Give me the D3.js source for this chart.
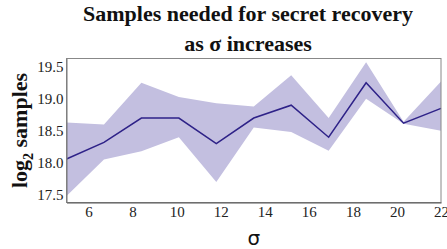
<!DOCTYPE html>
<html>
<head>
<meta charset="utf-8">
<script src="https://cdn.jsdelivr.net/npm/d3@7"></script>
<style>
  body { margin: 0; background: #fff; }
</style>
</head>
<body>
<div id="my_viz"></div>
<script>
const sigma = [5, 6.7, 8.4, 10.1, 11.8, 13.5, 15.2, 16.9, 18.6, 20.3, 22];
const mean = [18.06, 18.32, 18.7, 18.7, 18.3, 18.7, 18.9, 18.4, 19.25, 18.62, 18.85];
const upper = [18.63, 18.6, 19.25, 19.03, 18.93, 18.88, 19.37, 18.7, 19.57, 18.64, 19.27];
const lower = [17.48, 18.05, 18.18, 18.4, 17.7, 18.55, 18.48, 18.19, 19.0, 18.61, 18.5];
const xTicks = [6, 8, 10, 12, 14, 16, 18, 20, 22];
const yTicks = [17.5, 18.0, 18.5, 19.0, 19.5];

const width = 447;
const height = 249;
const margin = { top: 58.5, bottom: 46.5, left: 66.5, right: 6 };

const data = sigma.map((s, i) => ({ s: s, m: mean[i], hi: upper[i], lo: lower[i] }));

const svg = d3.select('#my_viz')
    .append('svg')
    .attr('width', width)
    .attr('height', height);

const x = d3.scaleLinear()
    .domain([5, 22])
    .range([margin.left, width - margin.right]);

const y = d3.scaleLinear()
    .domain([17.38, 19.63])
    .range([height - margin.bottom, margin.top]);

// band
svg.append('path')
    .datum(data)
    .attr('fill', '#c3bfe0')
    .attr('d', d3.area()
        .x(d => x(d.s))
        .y0(d => y(d.lo))
        .y1(d => y(d.hi)));

// mean line
svg.append('path')
    .datum(data)
    .attr('fill', 'none')
    .attr('stroke', '#2e2288')
    .attr('stroke-width', 1.5)
    .attr('d', d3.line()
        .x(d => x(d.s))
        .y(d => y(d.m)));

// frame
svg.append('rect')
    .attr('x', margin.left)
    .attr('y', margin.top)
    .attr('width', width - margin.right - margin.left)
    .attr('height', height - margin.bottom - margin.top)
    .attr('fill', 'none')
    .attr('stroke', '#888')
    .attr('stroke-width', 1);

function yAxis(g) {
    g.attr('transform', `translate(${margin.left},0)`)
        .call(d3.axisLeft(y).tickValues(yTicks).tickFormat(d3.format('.1f')).tickSize(0).tickPadding(3))
        .attr('font-family', 'Liberation Serif, Times New Roman, serif')
        .attr('font-size', '15px');
    g.select('.domain').attr('stroke', '#777');
    g.selectAll('text').attr('fill', '#222');
}
function xAxis(g) {
    g.attr('transform', `translate(0,${height - margin.bottom})`)
        .call(d3.axisBottom(x).tickValues(xTicks).tickSize(0).tickPadding(4))
        .attr('font-family', 'Liberation Serif, Times New Roman, serif')
        .attr('font-size', '15px');
    g.select('.domain').attr('stroke', '#555');
    g.selectAll('text').attr('fill', '#222');
}
svg.append('g').call(xAxis);
svg.append('g').call(yAxis);

// titles
const title = svg.append('text')
    .attr('text-anchor', 'middle')
    .attr('font-family', 'Liberation Serif, Times New Roman, serif')
    .attr('font-weight', 'bold')
    .attr('font-size', '22px')
    .attr('fill', '#111');
title.append('tspan').attr('x', 248).attr('y', 21).text('Samples needed for secret recovery');
title.append('tspan').attr('x', 248).attr('y', 51).text('as σ increases');

const ylab = svg.append('text')
    .attr('transform', `translate(27,${(margin.top + height - margin.bottom) / 2}) rotate(-90)`)
    .attr('text-anchor', 'middle')
    .attr('font-family', 'Liberation Serif, Times New Roman, serif')
    .attr('font-weight', 'bold')
    .attr('font-size', '22px')
    .attr('fill', '#111');
ylab.append('tspan').text('log');
ylab.append('tspan').attr('font-size', '14px').attr('dy', 6).text('2');
ylab.append('tspan').attr('dy', -6).text(' samples');

svg.append('text')
    .attr('x', (margin.left + width - margin.right) / 2)
    .attr('y', 245)
    .attr('text-anchor', 'middle')
    .attr('font-family', 'DejaVu Sans, sans-serif')
    .attr('font-size', '20px')
    .attr('fill', '#111')
    .text('σ');
</script>
</body>
</html>
